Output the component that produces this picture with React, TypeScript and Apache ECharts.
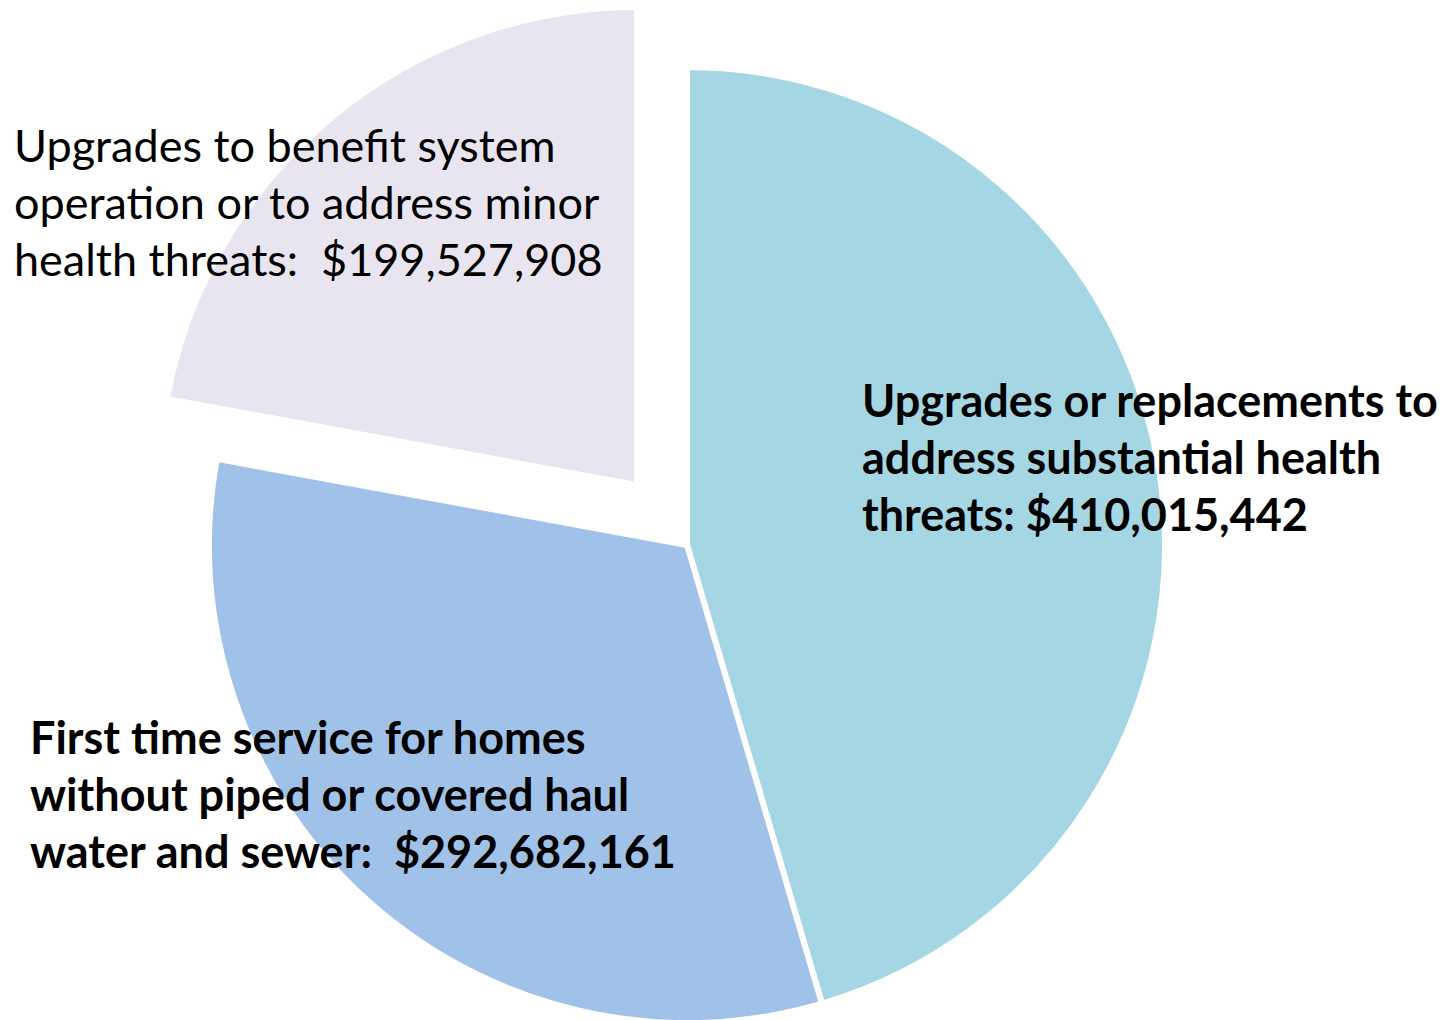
import React, { useEffect, useRef } from "react";
import * as echarts from "echarts";

const categories = [
  "Upgrades or replacements to\naddress substantial health\nthreats:",
  "First time service for homes\nwithout piped or covered haul\nwater and sewer:",
  "Upgrades to benefit system\noperation or to address minor\nhealth threats:",
];
const values = [410015442, 292682161, 199527908];
const separators = [" ", "  ", "  "];
const colors = ["#A4D6E4", "#A0C2E9", "#E9E5F0"];
const bold = [true, true, false];
const exploded = [false, false, true];
const labelPos = [
  [862, 457],
  [30, 794],
  [14, 202],
];

const labelText = (i: number) =>
  `${categories[i]}${separators[i]}$${values[i].toLocaleString("en-US")}`;

export default function App() {
  const ref = useRef<HTMLDivElement>(null);
  useEffect(() => {
    if (!ref.current) return;
    const chart = echarts.init(ref.current, null, { renderer: "svg" });
    chart.setOption({
      animation: false,
      backgroundColor: "#ffffff",
      series: [
        {
          type: "pie",
          center: [687, 545],
          radius: [0, 478],
          startAngle: 90,
          clockwise: true,
          selectedMode: "multiple",
          selectedOffset: 78,
          emphasis: { disabled: true },
          itemStyle: { borderColor: "#ffffff", borderWidth: 6 },
          label: { show: false },
          labelLine: { show: false },
          data: values.map((v, i) => ({
            name: categories[i],
            value: v,
            selected: exploded[i],
            itemStyle: { color: colors[i] },
          })),
        },
      ],
      graphic: values.map((_, i) => ({
        type: "text",
        x: labelPos[i][0],
        y: labelPos[i][1],
        z: 100,
        style: {
          text: labelText(i),
          fill: "#000000",
          fontFamily: "Lato",
          fontSize: 45,
          fontWeight: bold[i] ? "bold" : "normal",
          lineHeight: 57,
          textAlign: "left",
          textVerticalAlign: "middle",
        },
      })),
    });
    return () => chart.dispose();
  }, []);
  return (
    <div
      ref={ref}
      style={{ position: "fixed", left: 0, top: 0, width: 1451, height: 1020 }}
    />
  );
}
